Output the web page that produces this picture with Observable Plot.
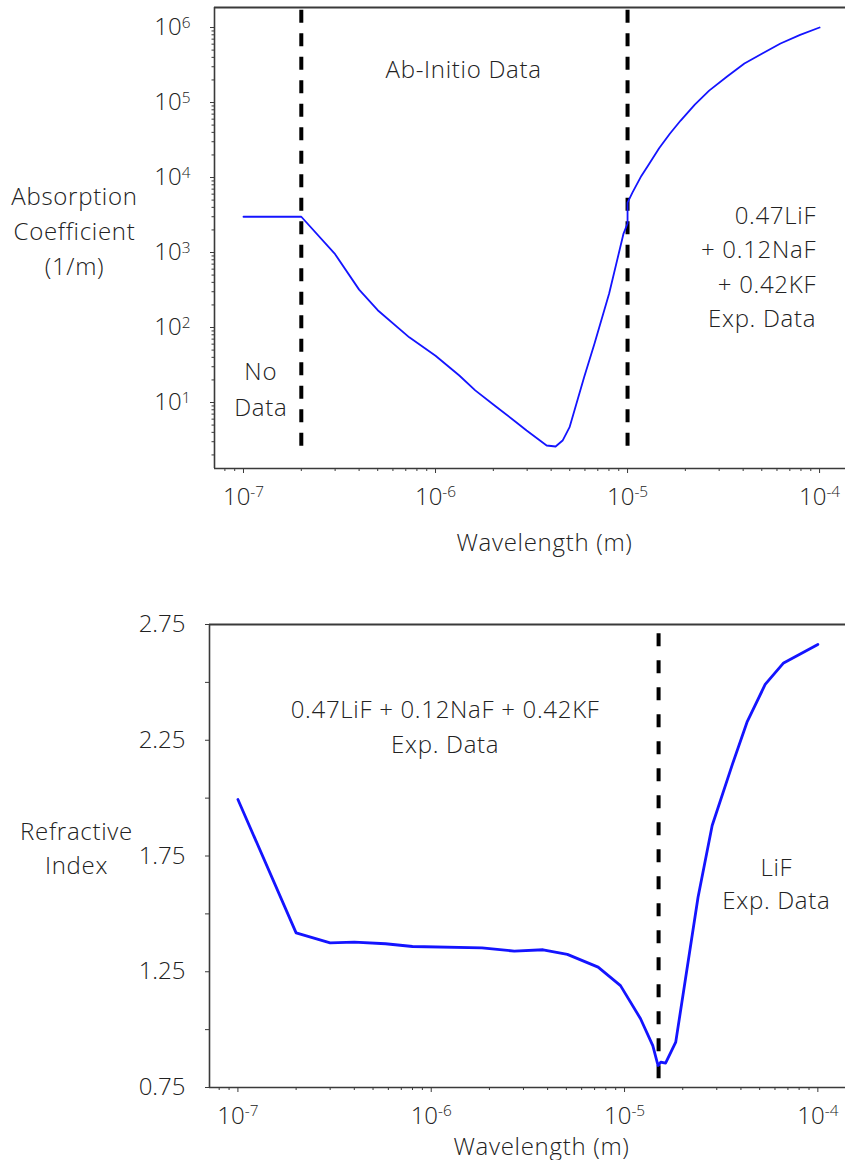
<!DOCTYPE html>
<html>
<head>
<meta charset="utf-8">
<script src="https://cdn.jsdelivr.net/npm/d3@7"></script>
<script src="https://cdn.jsdelivr.net/npm/@observablehq/plot@0.6"></script>
<style>
  html, body { margin: 0; padding: 0; background: #fff; }
  #charts { width: 845px; }
  #charts svg { display: block; }
  #charts g[aria-label="text"] text { letter-spacing: 0.7px; }
</style>
</head>
<body>
<div id="charts"></div>
<script>
// Absorption coefficient of the salt mixture versus wavelength
const absWavelength = [1e-7, 2e-7, 3e-7, 4e-7, 5e-7, 7.3e-7, 1e-6, 1.33e-6, 1.61e-6, 2.03e-6,
  2.63e-6, 2.98e-6, 3.79e-6, 4.22e-6, 4.59e-6, 4.99e-6, 5.94e-6, 6.73e-6, 8.02e-6, 9.53e-6,
  1e-5, 1e-5, 1.06e-5, 1.18e-5, 1.28e-5, 1.46e-5, 1.66e-5, 1.89e-5, 2.24e-5, 2.66e-5,
  3.3e-5, 4.06e-5, 5.06e-5, 6.26e-5, 7.92e-5, 1e-4];
const absCoefficient = [3000, 3000, 950, 320, 170, 74, 42, 22.9, 14.5, 9.1,
  5.46, 4.23, 2.67, 2.59, 3.11, 4.69, 21.7, 61, 284, 1790,
  2440, 4640, 6300, 10500, 14500, 24500, 38300, 57500, 94000, 144000,
  222000, 331000, 455000, 612000, 798000, 1e6];

// Refractive index versus wavelength
const riWavelength = [1e-7, 2e-7, 3e-7, 4e-7, 5.8e-7, 8e-7, 1.83e-6, 2.69e-6, 3.79e-6, 5.06e-6,
  7.3e-6, 9.53e-6, 1.21e-5, 1.4e-5, 1.49e-5, 1.54e-5, 1.63e-5, 1.84e-5, 2.4e-5, 2.84e-5,
  3.62e-5, 4.3e-5, 5.34e-5, 6.65e-5, 1e-4];
const riIndex = [1.994, 1.418, 1.375, 1.378, 1.371, 1.359, 1.353, 1.339, 1.345, 1.325,
  1.27, 1.19, 1.047, 0.931, 0.845, 0.86, 0.855, 0.946, 1.572, 1.882,
  2.148, 2.328, 2.491, 2.584, 2.664];

// Boundaries between data sources
const absBoundaries = [2e-7, 1e-5];
const riBoundaries = [1.5e-5];

// Axis ticks
const wavelengthTicks = [1e-7, 1e-6, 1e-5, 1e-4];
const absTicks = [1e1, 1e2, 1e3, 1e4, 1e5, 1e6];
const riTicks = [0.75, 1.25, 1.75, 2.25, 2.75];
const riMinorTicks = [1.0, 1.5, 2.0, 2.5];

// Text
const absYLabel = "Absorption\nCoefficient\n(1/m)";
const riYLabel = "Refractive\nIndex";
const xLabel = "Wavelength (m)";
const absNotes = ["No\nData", "Ab-Initio Data", "0.47LiF\n+ 0.12NaF\n+ 0.42KF\nExp. Data"];
const riNotes = ["0.47LiF + 0.12NaF + 0.42KF\nExp. Data", "LiF\nExp. Data"];

const absData = absWavelength.map((w, i) => ({wavelength: w, value: absCoefficient[i]}));
const riData = riWavelength.map((w, i) => ({wavelength: w, value: riIndex[i]}));

function minorLogTicks(lo, hi) {
  const out = [];
  for (let e = Math.floor(Math.log10(lo)); e <= Math.ceil(Math.log10(hi)); e++) {
    for (let k = 2; k <= 9; k++) {
      const v = k * Math.pow(10, e);
      if (v >= lo && v <= hi) out.push(v);
    }
  }
  return out;
}

const axisColor = "#3a3a3a";
const textColor = "#222222";
const lineColor = "#1414ff";
const baseStyle = {
  fontFamily: "'Open Sans', 'DejaVu Sans', sans-serif",
  fontSize: "24px",
  fontWeight: 300,
  color: textColor,
  background: "white",
  overflow: "visible"
};
const powerFormat = d => "10^" + Math.round(Math.log10(d));

// Turn "10^n" tick labels into a base with a raised exponent
function superscripts(svg) {
  svg.querySelectorAll("text").forEach(t => {
    const m = /^10\^(-?\d+)$/.exec(t.textContent);
    if (!m) return;
    t.textContent = "10";
    const sup = document.createElementNS("http://www.w3.org/2000/svg", "tspan");
    sup.setAttribute("dy", "-0.5em");
    sup.setAttribute("font-size", "0.64em");
    sup.textContent = m[1];
    t.appendChild(sup);
  });
  return svg;
}

// Top panel: absorption coefficient
const absX = [Math.pow(10, -7.151), Math.pow(10, -3.865)];
const absY = [Math.pow(10, 0.12), Math.pow(10, 6.267)];
const absPlot = Plot.plot({
  width: 845,
  height: 580,
  marginTop: 7,
  marginLeft: 214,
  marginRight: 0,
  marginBottom: 112,
  style: baseStyle,
  x: {type: "log", domain: absX, label: null},
  y: {type: "log", domain: absY, label: null},
  marks: [
    Plot.axisX(minorLogTicks(absX[0], absX[1]), {tickSize: 3, tickFormat: () => "", stroke: axisColor, label: null}),
    Plot.axisX(wavelengthTicks, {tickSize: 5, tickPadding: 14, tickFormat: powerFormat, stroke: axisColor, fill: textColor, label: null}),
    Plot.axisY(minorLogTicks(absY[0], absY[1]), {tickSize: 2.5, tickFormat: () => "", stroke: axisColor, label: null}),
    Plot.axisY(absTicks, {tickSize: 4, tickPadding: 20, tickFormat: powerFormat, stroke: axisColor, fill: textColor, label: null}),
    Plot.ruleX([absX[0]], {stroke: axisColor, strokeWidth: 1.6}),
    Plot.ruleY([absY[0]], {stroke: axisColor, strokeWidth: 1.6}),
    Plot.ruleY([absY[1]], {stroke: axisColor, strokeWidth: 2}),
    Plot.ruleX(absBoundaries, {y1: 1.7e6, y2: 2, stroke: "black", strokeWidth: 4, strokeDasharray: "13,10.5"}),
    Plot.line(absData, {x: "wavelength", y: "value", stroke: lineColor, strokeWidth: 1.8}),
    Plot.text([absNotes[0]], {x: [1.23e-7], y: [16.2], lineHeight: 1.46, fill: textColor}),
    Plot.text([absNotes[1]], {x: [1.4e-6], y: [2.67e5], fill: textColor}),
    Plot.text([absNotes[2]], {x: [9.6e-5], y: [690], textAnchor: "end", lineHeight: 1.44, fill: textColor}),
    Plot.text([absYLabel], {frameAnchor: "left", dx: -140, dy: -9, lineAnchor: "middle", textAnchor: "middle", lineHeight: 1.46, fill: textColor}),
    Plot.text([xLabel], {frameAnchor: "bottom", dx: 14.5, dy: 75, lineAnchor: "middle", textAnchor: "middle", fill: textColor})
  ]
});

// Bottom panel: refractive index
const riX = [Math.pow(10, -7.147), Math.pow(10, -3.857)];
const riY = [0.75, 2.75];
const riPlot = Plot.plot({
  width: 845,
  height: 580,
  marginTop: 44,
  marginLeft: 209,
  marginRight: 0,
  marginBottom: 73,
  style: baseStyle,
  x: {type: "log", domain: riX, label: null},
  y: {domain: riY, label: null},
  marks: [
    Plot.axisX(minorLogTicks(riX[0], riX[1]), {tickSize: 3, tickFormat: () => "", stroke: axisColor, label: null}),
    Plot.axisX(wavelengthTicks, {tickSize: 5, tickPadding: 14, tickFormat: powerFormat, stroke: axisColor, fill: textColor, label: null}),
    Plot.axisY(riMinorTicks, {tickSize: 4, tickFormat: () => "", stroke: axisColor, label: null}),
    Plot.axisY(riTicks, {tickSize: 4, tickPadding: 20, tickFormat: d3.format(".2f"), stroke: axisColor, fill: textColor, label: null}),
    Plot.ruleX([riX[0]], {stroke: axisColor, strokeWidth: 1.6}),
    Plot.ruleY([riY[0]], {stroke: axisColor, strokeWidth: 1.6}),
    Plot.ruleY([riY[1]], {stroke: axisColor, strokeWidth: 2}),
    Plot.ruleX(riBoundaries, {y1: 2.71, y2: 0.776, stroke: "black", strokeWidth: 4, strokeDasharray: "13,14"}),
    Plot.line(riData, {x: "wavelength", y: "value", stroke: lineColor, strokeWidth: 2.8}),
    Plot.text([riNotes[0]], {x: [1.18e-6], y: [2.317], lineHeight: 1.46, fill: textColor}),
    Plot.text([riNotes[1]], {x: [6.1e-5], y: [1.638], lineHeight: 1.4, fill: textColor}),
    Plot.text([riYLabel], {frameAnchor: "left", dx: -133, dy: -10, lineAnchor: "middle", textAnchor: "middle", lineHeight: 1.42, fill: textColor}),
    Plot.text([xLabel], {frameAnchor: "bottom", dx: 14, dy: 60, lineAnchor: "middle", textAnchor: "middle", fill: textColor})
  ]
});

const host = document.getElementById("charts");
host.appendChild(superscripts(absPlot));
host.appendChild(superscripts(riPlot));
</script>
</body>
</html>
